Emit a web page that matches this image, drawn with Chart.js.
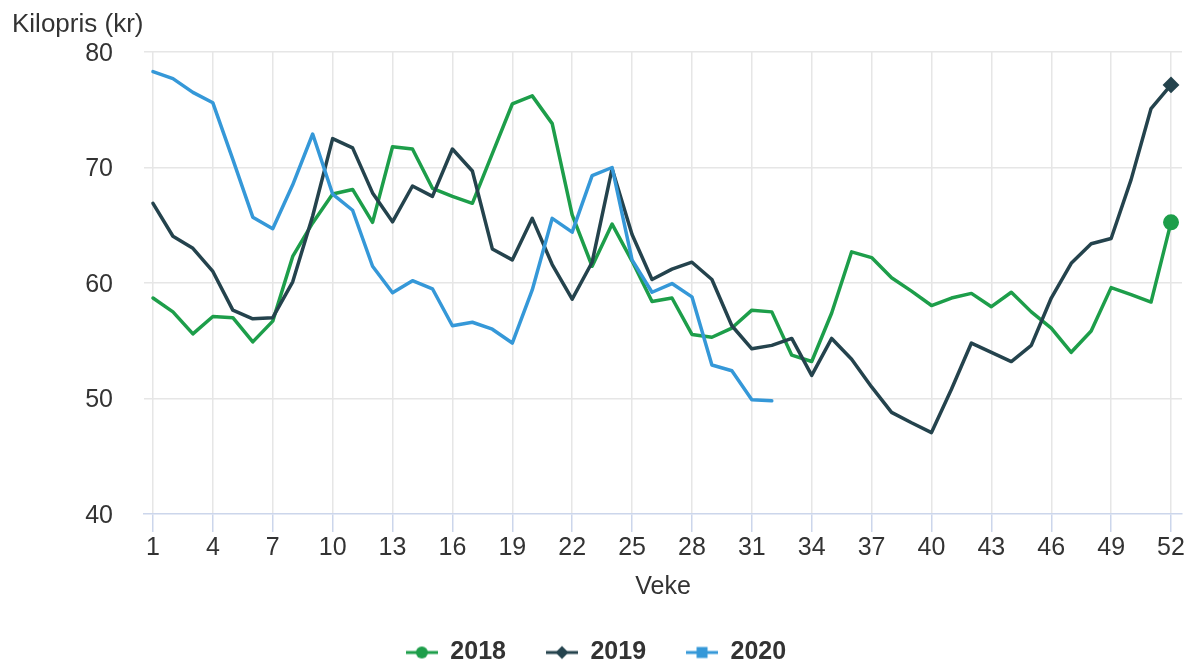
<!DOCTYPE html>
<html>
<head>
<meta charset="utf-8">
<title>Kilopris per veke</title>
<script src="https://cdn.jsdelivr.net/npm/chart.js@4.4.1/dist/chart.umd.min.js"></script>
<style>
  html, body { margin: 0; padding: 0; background: #ffffff; }
  #chart { display: block; }
</style>
</head>
<body>
<canvas id="chart" width="1184" height="663"></canvas>
<script>
// Week numbers and the ticks shown on the axes
const weeks = Array.from({ length: 52 }, (_, i) => i + 1);
const weekTicks = [1, 4, 7, 10, 13, 16, 19, 22, 25, 28, 31, 34, 37, 40, 43, 46, 49, 52];
const priceTicks = [40, 50, 60, 70, 80];

const seriesNames = ['2018', '2019', '2020'];

// Kilopris (kr) per veke
const price2018 = [58.7, 57.5, 55.6, 57.1, 57.0, 54.9, 56.7, 62.3, 65.2, 67.7,
  68.1, 65.25, 71.8, 71.6, 68.2, 67.5, 66.9, 71.2, 75.5, 76.2,
  73.8, 65.9, 61.45, 65.1, 61.9, 58.4, 58.7, 55.55, 55.3, 56.1,
  57.65, 57.5, 53.75, 53.2, 57.4, 62.7, 62.2, 60.45, 59.3, 58.05,
  58.7, 59.1, 57.95, 59.2, 57.5, 56.1, 54.0, 55.85, 59.6, 59.0,
  58.35, 65.25];
const price2019 = [66.9, 64.05, 63.0, 61.0, 57.65, 56.9, 57.0, 60.1, 65.8, 72.5,
  71.7, 67.8, 65.3, 68.4, 67.5, 71.6, 69.7, 62.95, 62.0, 65.6,
  61.6, 58.6, 61.8, 69.9, 64.2, 60.3, 61.2, 61.8, 60.3, 56.3,
  54.3, 54.6, 55.2, 52.0, 55.2, 53.4, 51.0, 48.8, 47.9, 47.05,
  50.8, 54.8, 54.0, 53.2, 54.6, 58.7, 61.7, 63.4, 63.85, 68.95,
  75.1, 77.15];
const price2020 = [78.3, 77.7, 76.5, 75.6, 70.7, 65.7, 64.7, 68.5, 72.9, 67.7,
  66.3, 61.45, 59.15, 60.2, 59.5, 56.3, 56.6, 56.0, 54.8, 59.4,
  65.6, 64.4, 69.3, 70.0, 62.0, 59.2, 59.95, 58.8, 52.9, 52.4,
  49.9, 49.8];

const colors = ['#1d9e4a', '#24434d', '#3598d8'];
const markers = ['circle', 'rectRot', 'rect'];

const textColor = '#333333';
const fontFamily = '"Liberation Sans", Arial, Helvetica, sans-serif';

function toPoints(values) {
  return values.map((v, i) => ({ x: weeks[i], y: v }));
}

// Small line + marker picture for the legend
function legendIcon(color, style) {
  const c = document.createElement('canvas');
  c.width = 32;
  c.height = 16;
  const g = c.getContext('2d');
  g.strokeStyle = color;
  g.fillStyle = color;
  g.lineWidth = 3;
  g.beginPath();
  g.moveTo(0, 8);
  g.lineTo(32, 8);
  g.stroke();
  g.beginPath();
  if (style === 'circle') {
    g.arc(16, 8, 6, 0, Math.PI * 2);
  } else if (style === 'rectRot') {
    g.moveTo(16, 1.5); g.lineTo(22.5, 8); g.lineTo(16, 14.5); g.lineTo(9.5, 8);
    g.closePath();
  } else {
    g.rect(10.5, 2.5, 11, 11);
  }
  g.fill();
  return c;
}

// Only the last point of 2018 and 2019 carries a marker
function lastPointRadius(show) {
  return function(ctx) {
    if (!show) return 0;
    return ctx.dataIndex === ctx.dataset.data.length - 1 ? 7 : 0;
  };
}

const allSeries = [price2018, price2019, price2020];
const showLast = [true, true, false];

const datasets = allSeries.map((values, i) => ({
  label: seriesNames[i],
  data: toPoints(values),
  borderColor: colors[i],
  backgroundColor: colors[i],
  borderWidth: 3.5,
  borderJoinStyle: 'round',
  borderCapStyle: 'round',
  tension: 0,
  pointStyle: markers[i],
  pointRadius: lastPointRadius(showLast[i]),
  pointHoverRadius: lastPointRadius(showLast[i]),
  pointBorderWidth: 2,
  order: allSeries.length - i
}));

// Axis title above the y axis
const yTitlePlugin = {
  id: 'yTitle',
  afterDraw(chart) {
    const c = chart.ctx;
    c.save();
    c.font = '26px ' + fontFamily;
    c.fillStyle = textColor;
    c.textAlign = 'left';
    c.textBaseline = 'alphabetic';
    c.fillText('Kilopris (kr)', 12, 32);
    c.restore();
  }
};

const ctx = document.getElementById('chart').getContext('2d');

window.priceChart = new Chart(ctx, {
  type: 'line',
  data: { datasets: datasets },
  plugins: [yTitlePlugin],
  options: {
    responsive: false,
    animation: false,
    devicePixelRatio: 1,
    layout: {
      autoPadding: false,
      padding: { top: 52, left: 10, right: 2, bottom: -12 }
    },
    plugins: {
      tooltip: { enabled: false },
      title: { display: false },
      legend: {
        position: 'bottom',
        labels: {
          usePointStyle: true,
          pointStyleWidth: 32,
          padding: 40,
          color: textColor,
          font: { family: fontFamily, size: 25, weight: 'bold' },
          generateLabels(chart) {
            return chart.data.datasets.map((ds, i) => ({
              text: ds.label,
              pointStyle: legendIcon(colors[i], markers[i]),
              fillStyle: colors[i],
              strokeStyle: colors[i],
              lineWidth: 0,
              fontColor: textColor,
              hidden: !chart.isDatasetVisible(i),
              datasetIndex: i
            }));
          }
        }
      }
    },
    scales: {
      x: {
        type: 'linear',
        min: 0.55,
        max: 52.55,
        afterBuildTicks(scale) {
          scale.ticks = weekTicks.map(v => ({ value: v }));
        },
        afterFit(scale) {
          scale.height = 86;
          scale.paddingLeft = 0;
          scale.paddingRight = 0;
        },
        ticks: {
          autoSkip: false,
          maxRotation: 0,
          padding: 1,
          color: textColor,
          font: { family: fontFamily, size: 25 },
          callback: v => String(v)
        },
        grid: {
          color: '#e6e6e6',
          lineWidth: 1.5,
          tickColor: '#ccd6eb',
          tickLength: 18
        },
        border: { display: true, color: '#ccd6eb', width: 1.5 },
        title: {
          display: true,
          text: 'Veke',
          color: textColor,
          padding: { top: 0, bottom: 0 },
          font: { family: fontFamily, size: 25, lineHeight: 1 }
        }
      },
      y: {
        min: 40,
        max: 80,
        afterBuildTicks(scale) {
          scale.ticks = priceTicks.map(v => ({ value: v }));
        },
        afterFit(scale) {
          scale.width = 134;
        },
        ticks: {
          padding: 31,
          labelOffset: 2,
          color: textColor,
          font: { family: fontFamily, size: 25 }
        },
        grid: {
          color: c => (c.tick && c.tick.value === priceTicks[0]) ? 'rgba(0,0,0,0)' : '#e6e6e6',
          lineWidth: 1.5,
          drawTicks: false
        },
        border: { display: false }
      }
    }
  }
});
</script>
</body>
</html>
